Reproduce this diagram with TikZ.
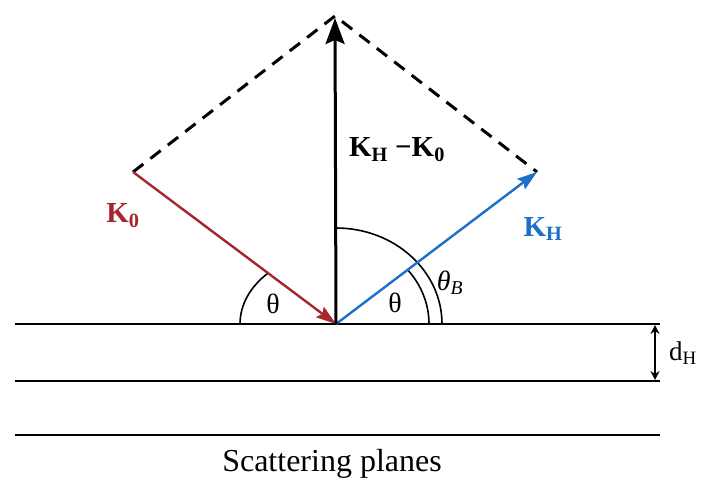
\documentclass[tikz,border=0pt]{standalone}
\usepackage{fontspec}
\setmainfont{Liberation Serif}
\usetikzlibrary{arrows.meta,calc}
\definecolor{kred}{RGB}{165,38,48}
\definecolor{kblue}{RGB}{28,112,200}
\begin{document}
\begin{tikzpicture}[x=1pt,y=-1pt,
  vecred/.style={line width=2.4pt,draw=kred,-{Stealth[length=20pt,width=13pt,inset=3pt]}},
  vecblue/.style={line width=2.4pt,draw=kblue,-{Stealth[length=20pt,width=13pt,inset=3pt]}},
  vecblack/.style={line width=3pt,-{Stealth[length=26pt,width=19pt,inset=4pt]}},
  plane/.style={line width=2pt},
  guide/.style={line width=3pt,dash pattern=on 13pt off 9pt},
  arcline/.style={line width=1.6pt},
  lab/.style={font=\fontsize{29}{34}\selectfont\bfseries,inner sep=0pt},
  ang/.style={font=\fontsize{28}{33}\selectfont,inner sep=0pt}
]
\useasboundingbox (0,0) rectangle (708,489);
\fill[white] (0,0) rectangle (708,489);
% key points
\coordinate (O) at (336,324);
\coordinate (L) at (133,172);
\coordinate (R) at (537,172);
\coordinate (T) at (335,16);
\coordinate (Ttip) at (335,18);
% scattering planes
\coordinate (p1a) at (15,324); \coordinate (p1b) at (660,324);
\coordinate (p2a) at (15,381); \coordinate (p2b) at (660,381);
\coordinate (p3a) at (15,435); \coordinate (p3b) at (660,435);
\draw[plane] (p1a) -- (p1b);
\draw[plane] (p2a) -- (p2b);
\draw[plane] (p3a) -- (p3b);
% dashed construction
\draw[guide] (L) -- (T) -- (R);
% angle arcs
\draw[arcline] ($(O)+(-96,0)$) arc[start angle=180,end angle=225,x radius=96,y radius=72];
\draw[arcline] ($(O)+(93,0)$) arc[start angle=0,end angle=-39,x radius=93,y radius=85];
\draw[arcline] ($(O)+(106,0)$) arc[start angle=0,end angle=-90,x radius=106,y radius=96];
% vectors
\draw[vecred] (L) -- (O);
\draw[vecblue] (O) -- (R);
\draw[vecblack] (O) -- (Ttip);
% d_H
\coordinate (d1) at (655,325); \coordinate (d2) at (655,380);
\draw[line width=1.8pt,{Stealth[length=9pt,width=9pt]}-{Stealth[length=9pt,width=9pt]}] (d1) -- (d2);
% labels
\node[lab,text=kred] (k0) at (123,216) {K\textsubscript{0}};
\node[lab] (kd) at (397,150) {K\textsubscript{H} −K\textsubscript{0}};
\node[lab,text=kblue] (kh) at (543,229) {K\textsubscript{H}};
\node[ang] (th1) at (273,304) {θ};
\node[ang] (th2) at (395,303) {θ};
\node[ang] (thb) at (450,283) {\textit{θ}\textsubscript{\textit{B}}};
\node[font=\fontsize{27}{32}\selectfont,inner sep=0pt,anchor=west] (dh) at (669,353) {d\textsubscript{H}};
\node[font=\fontsize{32}{38}\selectfont,inner sep=0pt] (sp) at (332,464) {Scattering planes};
\end{tikzpicture}
\end{document}
